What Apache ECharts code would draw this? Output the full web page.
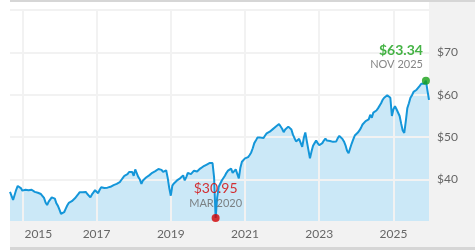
<!DOCTYPE html>
<html><head><meta charset="utf-8">
<script src="https://cdn.jsdelivr.net/npm/echarts@6/dist/echarts.min.js"></script>
<style>html,body{margin:0;padding:0;background:#fff}#c{width:475px;height:250px}</style>
</head><body><div id="c"></div><script>
// Semi-monthly closing prices starting September 2014
const startYear = 2014, startMonth = 9, pointsPerMonth = 2;
const prices = [
  37.1, 36.9, 35.2, 35.0, 37.6, 38.5, 38.7, 38.0, 37.4, 37.0,
  37.6, 37.3, 37.5, 37.2, 37.6, 37.4, 37.1, 37.3, 36.9, 36.8,
  36.6, 36.2, 35.7, 34.6, 34.0, 34.8, 35.2, 35.8, 36.2, 35.5,
  34.4, 33.8, 32.9, 31.9, 31.7, 32.3, 33.1, 33.9, 34.5, 34.3,
  34.9, 35.1, 35.6, 35.9, 36.5, 37.0, 37.2, 37.0, 37.3, 37.1,
  36.6, 36.2, 35.8, 36.5, 37.0, 37.5, 37.1, 36.8, 37.6, 38.2,
  38.4, 38.0, 37.9, 38.1, 38.0, 38.3, 38.4, 38.7, 39.1, 39.0,
  39.3, 39.4, 39.9, 40.4, 40.9, 41.1, 41.3, 41.8, 42.2, 41.8,
  40.9, 42.4, 42.6, 40.6, 40.0, 39.0, 39.8, 40.1, 40.5, 40.4,
  41.0, 41.3, 41.6, 41.9, 42.0, 42.3, 42.5, 42.7, 42.3, 41.8,
  42.0, 42.2, 40.4, 38.0, 36.2, 38.6, 39.1, 39.5, 39.8, 40.0,
  40.3, 40.6, 41.0, 39.8, 40.6, 41.6, 41.5, 41.3, 41.7, 42.1,
  42.2, 41.9, 41.8, 42.6, 43.0, 43.1, 43.4, 43.5, 43.7, 43.9,
  44.2, 43.9, 40.5, 30.95, 35.8, 38.3, 37.9, 39.8, 40.2, 40.9,
  41.6, 42.1, 42.4, 42.6, 41.6, 41.9, 42.4, 42.0, 40.3, 42.8,
  44.2, 44.6, 45.0, 45.0, 45.3, 45.8, 46.4, 47.4, 48.6, 49.2,
  49.9, 50.1, 49.9, 49.6, 49.8, 50.4, 50.9, 51.0, 51.3, 51.6,
  51.9, 52.3, 52.5, 52.7, 53.1, 53.3, 52.0, 51.2, 51.8, 52.0,
  52.5, 52.8, 51.8, 50.6, 49.8, 49.0, 49.0, 49.6, 49.4, 47.7,
  49.8, 51.1, 49.0, 47.0, 45.0, 46.6, 48.0, 48.6, 49.2, 48.6,
  48.1, 48.4, 48.6, 49.2, 49.7, 49.2, 48.9, 49.1, 49.3, 48.9,
  48.5, 49.0, 49.8, 50.3, 50.4, 49.6, 49.0, 48.1, 46.8, 46.2,
  47.4, 48.5, 49.5, 50.4, 50.8, 51.1, 51.6, 52.2, 53.0, 53.4,
  53.8, 54.1, 54.2, 55.3, 54.6, 55.8, 55.9, 56.3, 56.8, 57.1,
  58.0, 58.8, 59.3, 59.7, 59.9, 59.6, 59.3, 55.0, 56.6, 57.3,
  56.6, 56.5, 55.0, 53.2, 51.6, 51.0, 53.8, 56.9, 58.0, 59.3,
  59.9, 60.7, 60.9, 61.2, 61.6, 62.1, 62.6, 62.8, 62.6, 63.34,
  61.0, 58.8
];
const yearTicks = [2015, 2017, 2019, 2021, 2023, 2025];
const priceMin = 30, priceMax = 80, priceStep = 10;
const monthNames = ['JAN','FEB','MAR','APR','MAY','JUN','JUL','AUG','SEP','OCT','NOV','DEC'];

const xs = prices.map((p, i) => startYear + (startMonth - 1) / 12 + i / (12 * pointsPerMonth));
const pts = prices.map((p, i) => [xs[i], p]);
let iMin = 0, iMax = 0;
prices.forEach((p, i) => { if (p < prices[iMin]) iMin = i; if (p > prices[iMax]) iMax = i; });
function stamp(i) {
  const m = (startMonth - 1) + Math.floor(i / pointsPerMonth);
  return monthNames[m % 12] + ' ' + (startYear + Math.floor(m / 12));
}

const chart = echarts.init(document.getElementById('c'), null, { renderer: 'canvas' });
chart.setOption({
  animation: false,
  textStyle: { fontFamily: 'Lato' },
  grid: { left: 10, right: 46, top: 10, bottom: 28 },
  graphic: [
    { type: 'rect', z: -10, silent: true, shape: { x: 10, y: 222, width: 465, height: 25 }, style: { fill: '#f2f2f2' } },
    { type: 'rect', z: -10, silent: true, shape: { x: 429, y: 2, width: 46, height: 245 }, style: { fill: '#f2f2f2' } },
    { type: 'rect', z: -10, silent: true, shape: { x: 10, y: 0, width: 465, height: 2 }, style: { fill: '#d6d6d6' } },
    { type: 'rect', z: -10, silent: true, shape: { x: 10, y: 247, width: 465, height: 3 }, style: { fill: '#d6d6d6' } }
  ],
  xAxis: {
    type: 'value', min: xs[0], max: xs[xs.length - 1], z: 2,
    axisLine: { show: false },
    axisTick: { show: false, customValues: yearTicks },
    axisLabel: {
      customValues: yearTicks, margin: 6, color: '#666', fontSize: 12, fontFamily: 'Lato',
      formatter: v => v === yearTicks[0] ? '{first|' + v + '}' : String(v),
      rich: { first: { padding: [0, 0, 0, 32], fontSize: 12, color: '#666', fontFamily: 'Lato' } }
    },
    splitLine: { show: true, lineStyle: { color: '#f2f2f2', width: 2 } }
  },
  yAxis: {
    type: 'value', position: 'right', min: priceMin, max: priceMax, interval: priceStep, z: 2,
    axisLine: { show: false }, axisTick: { show: false },
    axisLabel: { margin: 8, color: '#666', fontSize: 12, fontFamily: 'Lato', showMinLabel: false, showMaxLabel: false, formatter: v => '$' + v },
    splitLine: { show: true, lineStyle: { color: '#f2f2f2', width: 2 } }
  },
  series: [
    { type: 'line', data: pts, symbol: 'none', silent: true, z: 1, lineStyle: { width: 0 }, areaStyle: { color: '#cbe8f7', opacity: 1 } },
    { type: 'line', data: pts, symbol: 'none', silent: true, z: 3, lineStyle: { color: '#1496d9', width: 2 } },
    {
      type: 'scatter', z: 4, symbolSize: 8, silent: true,
      data: [
        {
          value: [xs[iMin], prices[iMin]], itemStyle: { color: '#d40000' },
          label: {
            show: true, position: [4, -5], align: 'center', verticalAlign: 'bottom',
            formatter: '{p|$' + prices[iMin].toFixed(2) + '}\n{d|' + stamp(iMin) + '}',
            rich: {
              p: { color: '#d40000', fontSize: 14, lineHeight: 16, fontFamily: 'Lato', align: 'center' },
              d: { color: '#666', fontSize: 11, lineHeight: 12, fontFamily: 'Lato', align: 'center' }
            }
          }
        },
        {
          value: [xs[iMax], prices[iMax]], itemStyle: { color: '#17a017' },
          label: {
            show: true, position: [1, -6], align: 'right', verticalAlign: 'bottom',
            formatter: '{p|$' + prices[iMax].toFixed(2) + '}\n{d|' + stamp(iMax) + '}',
            rich: {
              p: { color: '#17a017', fontSize: 14, fontWeight: 'bold', lineHeight: 16, fontFamily: 'Lato', align: 'right' },
              d: { color: '#666', fontSize: 11, lineHeight: 12, fontFamily: 'Lato', align: 'right' }
            }
          }
        }
      ]
    }
  ]
});
</script></body></html>
